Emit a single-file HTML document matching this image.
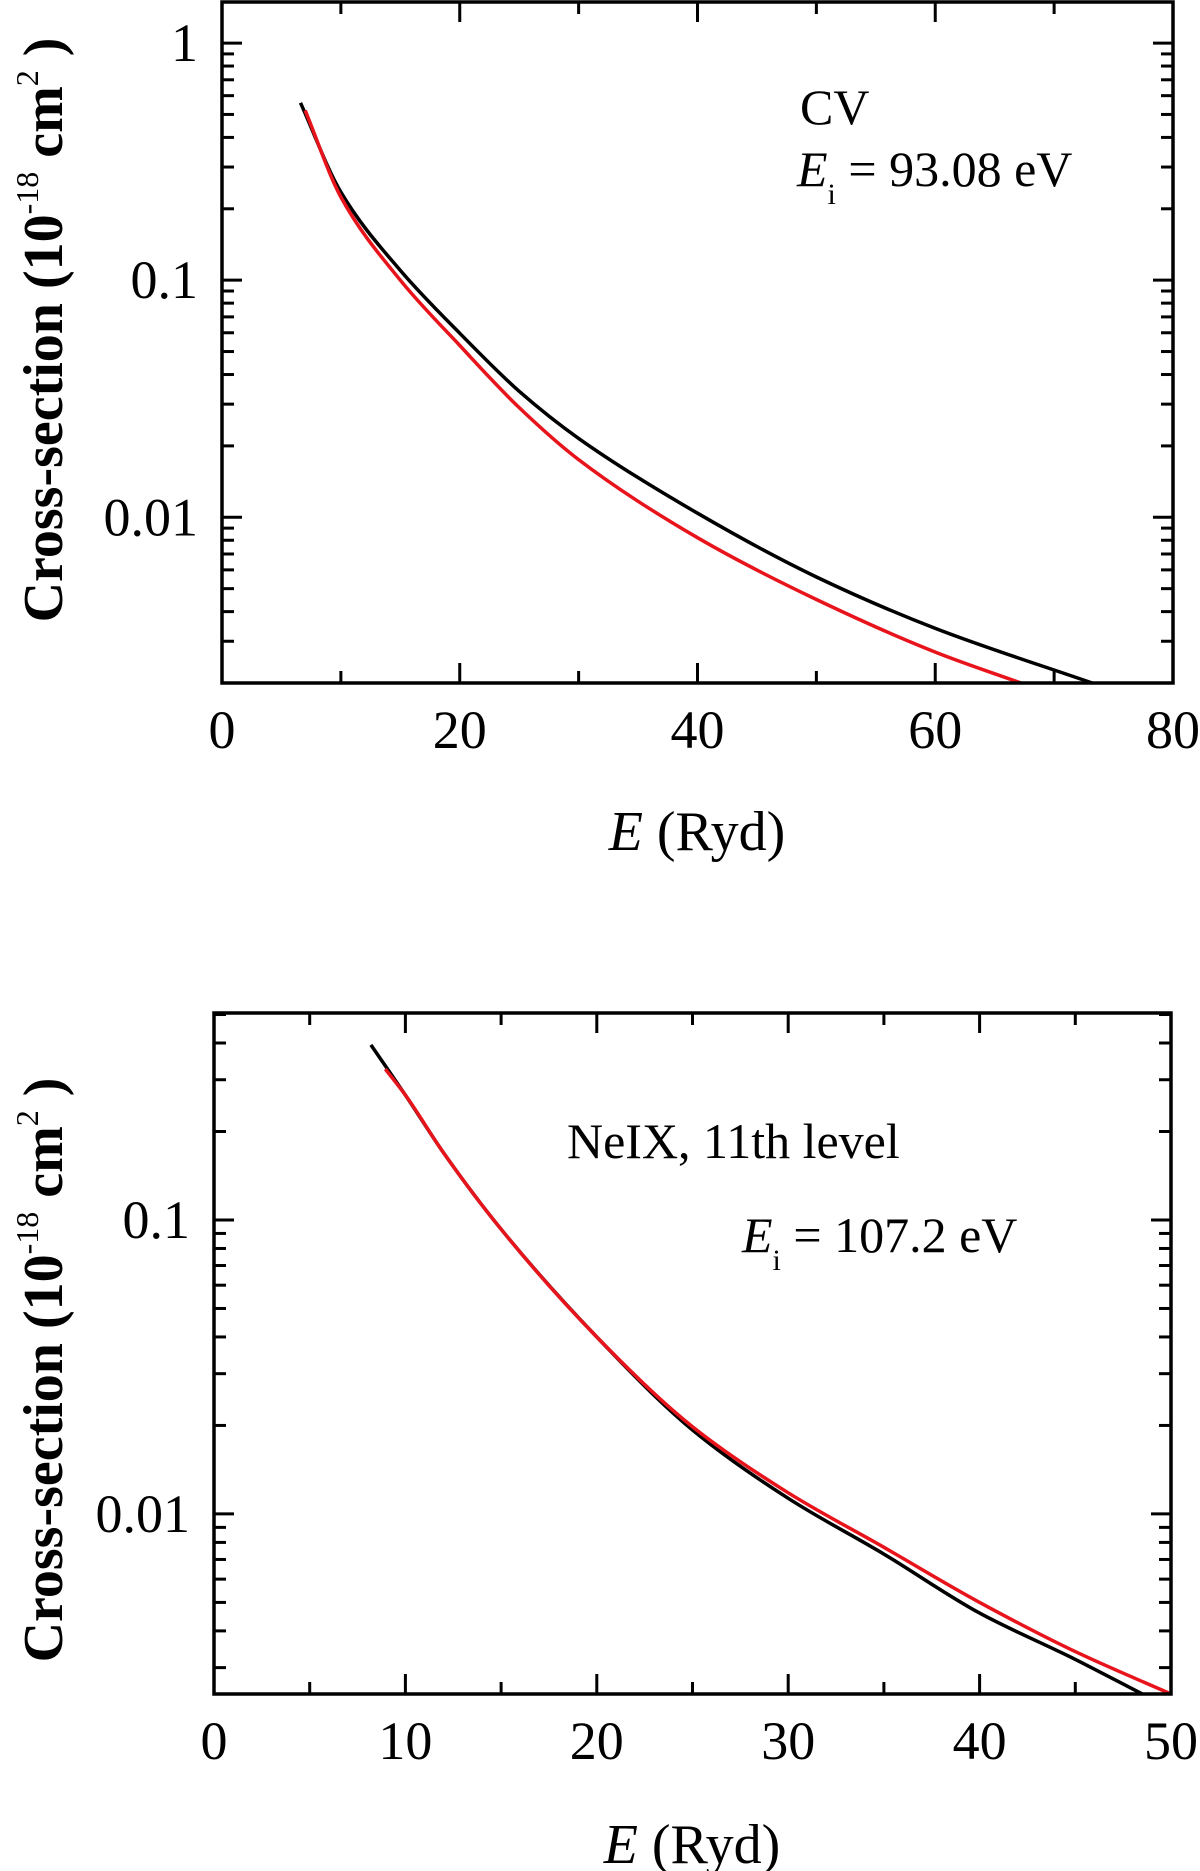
<!DOCTYPE html>
<html><head><meta charset="utf-8"><style>
html,body{margin:0;padding:0;background:#fff;}
svg{display:block;font-family:"Liberation Serif",serif;}
</style></head><body>
<svg id="fig" width="1200" height="1871" viewBox="0 0 1200 1871" xmlns="http://www.w3.org/2000/svg"></svg>
<script>
// Top panel data (CV)
const cvE_black=[6.6,10,15,20,25,30,40,50,60,73.2];
const cvS_black=[0.56,0.235,0.110,0.0597,0.034,0.0215,0.0104,0.0056,0.0034,0.002];
const cvE_red=[7.0,10,15,20,25,30,40,50,60,67.2];
const cvS_red=[0.52,0.224,0.100,0.053,0.029,0.0175,0.0082,0.0045,0.0027,0.002];
const cvXTicks=[0,20,40,60,80];
const cvXTickLabels=["0","20","40","60","80"];
const cvYTicks=[1,0.1,0.01];
const cvYTickLabels=["1","0.1","0.01"];
// Bottom panel data (NeIX)
const neE_black=[8.2,10,12,15,20,25,30,35,40,45,48.5];
const neS_black=[0.394,0.266,0.169,0.093,0.040,0.0193,0.0113,0.0073,0.0046,0.0032,0.00244];
const neE_red=[8.95,10,12,15,20,25,30,35,40,45,50];
const neS_red=[0.326,0.266,0.169,0.093,0.040,0.0198,0.0118,0.0077,0.0050,0.0034,0.00244];
const neXTicks=[0,10,20,30,40,50];
const neXTickLabels=["0","10","20","30","40","50"];
const neYTicks=[0.1,0.01];
const neYTickLabels=["0.1","0.01"];

const NS="http://www.w3.org/2000/svg";
const svg=document.getElementById('fig');
function mk(tag,attrs,parent){const e=document.createElementNS(NS,tag);for(const k in attrs)e.setAttribute(k,attrs[k]);(parent||svg).appendChild(e);return e;}

function monoPath(P){
  const n=P.length,x=P.map(p=>p[0]),y=P.map(p=>p[1]);
  const d=[],m=new Array(n);
  for(let i=0;i<n-1;i++)d.push((y[i+1]-y[i])/(x[i+1]-x[i]));
  m[0]=d[0];m[n-1]=d[n-2];
  for(let i=1;i<n-1;i++){
    if(d[i-1]*d[i]<=0)m[i]=0;
    else{const w1=2*(x[i+1]-x[i])+(x[i]-x[i-1]),w2=(x[i+1]-x[i])+2*(x[i]-x[i-1]);m[i]=(w1+w2)/(w1/d[i-1]+w2/d[i]);}
  }
  let s='M'+x[0].toFixed(1)+' '+y[0].toFixed(1);
  for(let i=0;i<n-1;i++){
    const h=x[i+1]-x[i];
    s+=' C'+(x[i]+h/3).toFixed(1)+' '+(y[i]+m[i]*h/3).toFixed(1)+' '+(x[i+1]-h/3).toFixed(1)+' '+(y[i+1]-m[i+1]*h/3).toFixed(1)+' '+x[i+1].toFixed(1)+' '+y[i+1].toFixed(1);
  }
  return s;
}

function panel(cfg){
  const g=mk('g',{});
  
  
  const {L,R,T,B,xmin,xmax,ymin,ymax}=cfg;
  const xs=v=>L+(v-xmin)/(xmax-xmin)*(R-L);
  const ys=v=>B-(Math.log10(v)-Math.log10(ymin))/(Math.log10(ymax)-Math.log10(ymin))*(B-T);
  const tg=mk('g',{stroke:'#000','stroke-width':3},g);
  
  
  for(let v=xmin;v<=xmax+1e-9;v+=cfg.xMinor){
    const major=cfg.xTicks.some(t=>Math.abs(t-v)<1e-9);
    const len=major?20:12;const x=xs(v);
    mk('line',{x1:x,y1:B,x2:x,y2:B-len},tg);
    mk('line',{x1:x,y1:T,x2:x,y2:T+len},tg);
  }
  for(let d=Math.floor(Math.log10(ymin));d<=Math.ceil(Math.log10(ymax));d++){
    for(let m=1;m<=9;m++){
      const v=m*Math.pow(10,d);
      if(v<ymin*0.999||v>ymax*1.001)continue;
      const len=m===1?20:12;const y=ys(v);
      mk('line',{x1:L,y1:y,x2:L+len,y2:y},tg);
      mk('line',{x1:R,y1:y,x2:R-len,y2:y},tg);
    }
  }
  function curve(E,S,color,name){
    const pts=E.map((e,i)=>[xs(e),ys(S[i])]);
    const p=mk('path',{d:monoPath(pts),fill:'none',stroke:color,'stroke-width':3.5,'stroke-linejoin':'round'},g);
    
    
  }
  curve(cfg.bE,cfg.bS,'#000','black-curve');
  curve(cfg.rE,cfg.rS,'#e8141c','red-curve');
  const fr=mk('rect',{x:L,y:T,width:R-L,height:B-T,fill:'none',stroke:'#000','stroke-width':3.5},g);
  
  
  cfg.xTicks.forEach((v,i)=>{
    const t=mk('text',{x:xs(v),y:cfg.xLabY,'text-anchor':'middle','font-size':54},g);
    t.textContent=cfg.xTickLabels[i];
    
    
  });
  cfg.yTicks.forEach((v,i)=>{
    const t=mk('text',{x:L-24,y:ys(v)+18,'text-anchor':'end','font-size':54},g);
    t.textContent=cfg.yTickLabels[i];
    
    
  });
}

panel({name:'cv-panel',L:222,R:1173,T:2,B:683,xmin:0,xmax:80,ymin:0.002,ymax:1.49,xMinor:10,
  xTicks:cvXTicks,xTickLabels:cvXTickLabels,yTicks:cvYTicks,yTickLabels:cvYTickLabels,
  bE:cvE_black,bS:cvS_black,rE:cvE_red,rS:cvS_red,xLabY:748});
panel({name:'neix-panel',L:214,R:1171,T:1013,B:1694,xmin:0,xmax:50,ymin:0.00244,ymax:0.506,xMinor:5,
  xTicks:neXTicks,xTickLabels:neXTickLabels,yTicks:neYTicks,yTickLabels:neYTickLabels,
  bE:neE_black,bS:neS_black,rE:neE_red,rS:neS_red,xLabY:1759});
</script>
<svg style="position:absolute;left:0;top:0" width="1200" height="1871" xmlns="http://www.w3.org/2000/svg" font-family="Liberation Serif, serif">
  <g transform="translate(62,330) rotate(-90)">
    <text text-anchor="middle" font-size="56" font-weight="bold">Cross-section (10<tspan font-size="32" dy="-24" font-weight="normal">-18</tspan><tspan dy="24"> cm</tspan><tspan font-size="32" dy="-24" font-weight="normal">2</tspan><tspan dy="24"> )</tspan></text>
  </g>
  <text x="697" y="850" text-anchor="middle" font-size="56"><tspan font-style="italic">E</tspan> (Ryd)</text>
  <text x="800" y="124" font-size="50">CV</text>
  <text x="797" y="186" font-size="50"><tspan font-style="italic">E</tspan><tspan font-size="30" dy="18">i</tspan><tspan dy="-18"> = 93.08 eV</tspan></text>

  <g transform="translate(62,1370) rotate(-90)">
    <text text-anchor="middle" font-size="56" font-weight="bold">Cross-section (10<tspan font-size="32" dy="-24" font-weight="normal">-18</tspan><tspan dy="24"> cm</tspan><tspan font-size="32" dy="-24" font-weight="normal">2</tspan><tspan dy="24"> )</tspan></text>
  </g>
  <text x="692" y="1863" text-anchor="middle" font-size="56"><tspan font-style="italic">E</tspan> (Ryd)</text>
  <text x="567" y="1158" font-size="50">NeIX, 11th level</text>
  <text x="742" y="1252" font-size="50"><tspan font-style="italic">E</tspan><tspan font-size="30" dy="18">i</tspan><tspan dy="-18"> = 107.2 eV</tspan></text>
</svg>
</body></html>
